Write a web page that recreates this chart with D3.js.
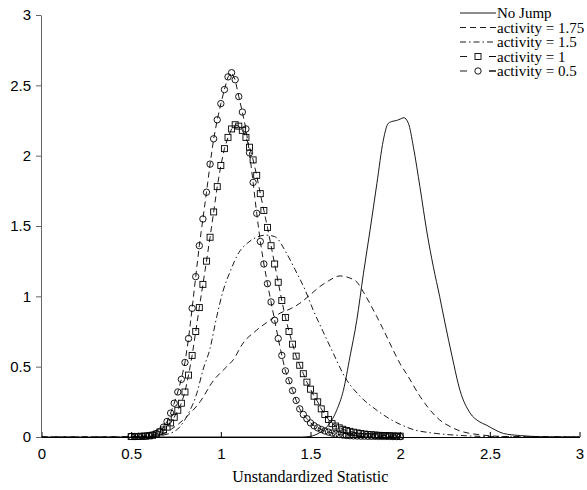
<!DOCTYPE html>
<html>
<head>
<meta charset="utf-8">
<script src="https://cdn.jsdelivr.net/npm/d3@7"></script>
<style>
  body { margin: 0; background: #fff; }
  svg { display: block; }
</style>
</head>
<body>
<svg id="chart" width="587" height="490"></svg>
<script>
"use strict"

/****** DATA ******/
// smooth curves
const noJumpX = [0, 1.45, 1.5, 1.55, 1.59, 1.646, 1.683, 1.72, 1.758, 1.795, 1.832, 1.87, 1.906, 1.934, 1.96, 1.98, 2.0, 2.02, 2.046, 2.074, 2.11, 2.15, 2.185, 2.22, 2.25, 2.29, 2.334, 2.39, 2.44, 2.48, 2.53, 2.576, 2.67, 2.8, 3.0]
const noJumpY = [0, 0, 0.005, 0.03, 0.07, 0.19, 0.33, 0.57, 0.83, 1.16, 1.47, 1.80, 2.11, 2.23, 2.245, 2.25, 2.26, 2.27, 2.23, 2.06, 1.78, 1.45, 1.21, 1.0, 0.81, 0.57, 0.33, 0.17, 0.11, 0.085, 0.05, 0.025, 0.01, 0.002, 0]

const act175X = [0, 0.6, 0.65, 0.717, 0.81, 0.884, 0.958, 1.033, 1.07, 1.12, 1.2, 1.274, 1.33, 1.386, 1.44, 1.497, 1.553, 1.6, 1.665, 1.72, 1.76, 1.795, 1.87, 1.9, 1.96, 2.0, 2.04, 2.11, 2.2, 2.32, 2.45, 2.6, 3.0]
const act175Y = [0, 0.003, 0.01, 0.05, 0.145, 0.25, 0.4, 0.5, 0.55, 0.66, 0.76, 0.83, 0.88, 0.91, 0.95, 1.01, 1.07, 1.11, 1.145, 1.13, 1.1, 1.03, 0.855, 0.78, 0.62, 0.52, 0.44, 0.29, 0.145, 0.05, 0.015, 0.003, 0]

const act15X = [0, 0.5, 0.6, 0.7, 0.77, 0.82, 0.866, 0.9, 0.94, 0.977, 1.014, 1.05, 1.1, 1.15, 1.2, 1.25, 1.3, 1.367, 1.414, 1.47, 1.516, 1.57, 1.627, 1.69, 1.776, 1.87, 1.94, 2.0, 2.08, 2.17, 2.35, 2.5, 3.0]
const act15Y = [0, 0, 0.003, 0.02, 0.07, 0.17, 0.31, 0.475, 0.63, 0.855, 1.045, 1.17, 1.31, 1.38, 1.42, 1.435, 1.425, 1.305, 1.19, 1.045, 0.9, 0.75, 0.595, 0.43, 0.29, 0.19, 0.13, 0.09, 0.05, 0.03, 0.01, 0.003, 0]

// marker series, sampled every 0.02 from 0.5 to 2.0
const gridX = [0.50, 0.52, 0.54, 0.56, 0.58, 0.60, 0.62, 0.64, 0.66, 0.68,
  0.70, 0.72, 0.74, 0.76, 0.78, 0.80, 0.82, 0.84, 0.86, 0.88,
  0.90, 0.92, 0.94, 0.96, 0.98, 1.00, 1.02, 1.04, 1.06, 1.08,
  1.10, 1.12, 1.14, 1.16, 1.18, 1.20, 1.22, 1.24, 1.26, 1.28,
  1.30, 1.32, 1.34, 1.36, 1.38, 1.40, 1.42, 1.44, 1.46, 1.48,
  1.50, 1.52, 1.54, 1.56, 1.58, 1.60, 1.62, 1.64, 1.66, 1.68,
  1.70, 1.72, 1.74, 1.76, 1.78, 1.80, 1.82, 1.84, 1.86, 1.88,
  1.90, 1.92, 1.94, 1.96, 1.98, 2.00]
const act1Y = [0.003, 0.003, 0.004, 0.005, 0.006, 0.008, 0.012, 0.02, 0.035, 0.05,
  0.07, 0.10, 0.14, 0.19, 0.24, 0.32, 0.44, 0.58, 0.75, 0.92,
  1.085, 1.25, 1.42, 1.60, 1.78, 1.93, 2.05, 2.13, 2.19, 2.22,
  2.21, 2.18, 2.13, 2.06, 1.97, 1.86, 1.73, 1.61, 1.49, 1.36,
  1.23, 1.10, 0.97, 0.85, 0.75, 0.66, 0.575, 0.51, 0.45, 0.39,
  0.34, 0.29, 0.25, 0.20, 0.16, 0.125, 0.095, 0.078, 0.065, 0.055,
  0.046, 0.040, 0.034, 0.029, 0.025, 0.021, 0.018, 0.016, 0.014, 0.012,
  0.011, 0.010, 0.009, 0.008, 0.007, 0.006]
const act05Y = [0.004, 0.004, 0.005, 0.006, 0.008, 0.011, 0.016, 0.025, 0.04, 0.07,
  0.11, 0.17, 0.24, 0.32, 0.41, 0.53, 0.70, 0.915, 1.14, 1.36,
  1.55, 1.74, 1.94, 2.12, 2.255, 2.37, 2.47, 2.56, 2.59, 2.54,
  2.42, 2.31, 2.19, 2.02, 1.81, 1.59, 1.39, 1.23, 1.09, 0.96,
  0.83, 0.70, 0.58, 0.47, 0.40, 0.33, 0.26, 0.20, 0.16, 0.13,
  0.10, 0.08, 0.065, 0.053, 0.043, 0.035, 0.028, 0.022, 0.017, 0.014,
  0.011, 0.009, 0.008, 0.007, 0.006, 0.006, 0.005, 0.005, 0.005, 0.004,
  0.004, 0.004, 0.004, 0.003, 0.003, 0.003]

const tickValues = [0, 0.5, 1, 1.5, 2, 2.5, 3]
const legendLabels = ['No Jump', 'activity = 1.75', 'activity = 1.5', 'activity = 1', 'activity = 0.5']

/****** CHART ******/
const svg = d3.select('#chart')
const plotLeft = 41, plotTop = 15, plotRight = 579.5, plotBottom = 437

const x = d3.scaleLinear().domain([0, 3]).range([plotLeft + 0.5, plotRight])
const y = d3.scaleLinear().domain([0, 3]).range([plotBottom, plotTop])

const zip = (xs, ys) => xs.map((v, i) => [v, ys[i]])

const series = [
  {pts: zip(noJumpX, noJumpY), dash: null, marker: null, curve: d3.curveMonotoneX},
  {pts: zip(act175X, act175Y), dash: '6,4', marker: null, curve: d3.curveMonotoneX},
  {pts: zip(act15X, act15Y), dash: '6,3,1.5,3', marker: null, curve: d3.curveMonotoneX},
  {pts: zip(gridX, act1Y), dash: '6,4', marker: 'square', curve: d3.curveLinear},
  {pts: zip(gridX, act05Y), dash: '6,4', marker: 'circle', curve: d3.curveLinear},
]

// axes
const tickFont = '"Liberation Sans", Arial, Helvetica, sans-serif'
const xAxis = svg.append('g')
  .attr('transform', `translate(0,${plotBottom})`)
  .call(d3.axisBottom(x).tickValues(tickValues).tickFormat(d3.format('')).tickSizeInner(-5).tickSizeOuter(0).tickPadding(11))
xAxis.select('.domain').attr('stroke', '#000')
xAxis.selectAll('text').attr('font-family', tickFont).attr('font-size', 15).attr('fill', '#000')

const yAxis = svg.append('g')
  .attr('transform', `translate(${plotLeft},0)`)
  .call(d3.axisLeft(y).tickValues(tickValues).tickFormat(d3.format('')).tickSizeInner(5).tickSizeOuter(0).tickPadding(5))
yAxis.select('.domain').attr('stroke', '#666')
yAxis.selectAll('.tick line').attr('stroke', '#666')
yAxis.selectAll('text').attr('font-family', tickFont).attr('font-size', 15).attr('fill', '#000')

svg.append('text')
  .attr('x', (plotLeft + plotRight) / 2)
  .attr('y', 482)
  .attr('text-anchor', 'middle')
  .attr('font-family', '"Liberation Serif", "Times New Roman", serif')
  .attr('font-size', 16)
  .text('Unstandardized Statistic')

// curves
const drawMarker = (g, kind, cx, cy) => {
  if (kind === 'circle') {
    g.append('circle').attr('cx', cx).attr('cy', cy).attr('r', 3.2)
      .attr('fill', 'none').attr('stroke', '#000').attr('stroke-width', 0.9)
  } else if (kind === 'square') {
    g.append('rect').attr('x', cx - 3).attr('y', cy - 3).attr('width', 6).attr('height', 6)
      .attr('fill', 'none').attr('stroke', '#000').attr('stroke-width', 0.9)
  }
}

const plot = svg.append('g')
for (const s of series) {
  const line = d3.line().x(d => x(d[0])).y(d => y(d[1])).curve(s.curve)
  plot.append('path')
    .attr('d', line(s.pts))
    .attr('fill', 'none')
    .attr('stroke', '#000')
    .attr('stroke-width', 0.9)
    .attr('stroke-dasharray', s.dash)
  if (s.marker) {
    const mg = plot.append('g')
    for (const p of s.pts) drawMarker(mg, s.marker, x(p[0]), y(p[1]))
  }
}

// legend
const legend = svg.append('g').attr('transform', 'translate(460,0)')
const rowY = [13, 27.5, 42, 56.5, 71]
series.forEach((s, i) => {
  const row = legend.append('g').attr('transform', `translate(0,${rowY[i]})`)
  row.append('line').attr('x1', 0).attr('x2', 36).attr('y1', 0).attr('y2', 0)
    .attr('stroke', '#000').attr('stroke-width', 0.9)
    .attr('stroke-dasharray', s.marker ? '7,22' : s.dash)
  if (s.marker) {
    row.append('line').attr('x1', 29).attr('x2', 36).attr('y1', 0).attr('y2', 0)
      .attr('stroke', '#000').attr('stroke-width', 0.9)
    drawMarker(row, s.marker, 18, 0)
  }
  row.append('text')
    .attr('x', 37).attr('y', 0).attr('dy', '0.35em')
    .attr('font-family', '"Liberation Serif", "Times New Roman", serif')
    .attr('font-size', 15)
    .text(legendLabels[i])
})
</script>
</body>
</html>
